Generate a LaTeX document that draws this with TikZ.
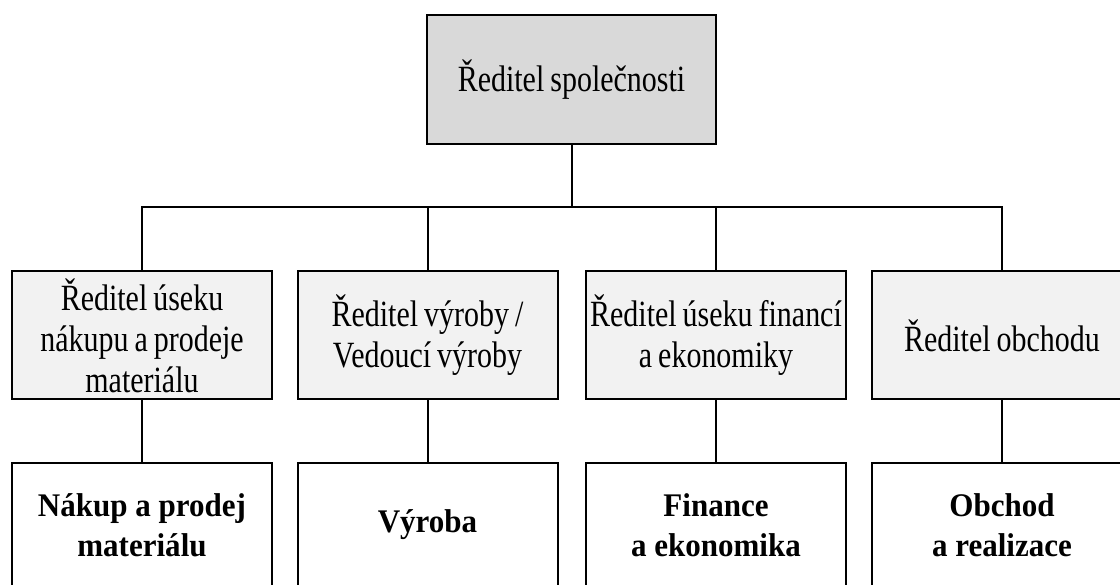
\documentclass[tikz,border=0pt]{standalone}
\usepackage{fontspec}
\setmainfont{Liberation Serif}[FakeStretch=0.81, WordSpace=0.8]
\newfontfamily\deptfont{Liberation Serif}[FakeStretch=0.94]
\usepackage{tikz}
\usetikzlibrary{positioning,calc}
\usepackage{xcolor}
\definecolor{topgray}{RGB}{217,217,217}
\definecolor{midgray}{RGB}{242,242,242}
\tikzset{
  % common org box
  orgbox/.style={rectangle, draw=black, line width=2pt, minimum width=260pt, minimum height=128pt,
                 inner sep=2pt, align=center},
  % company director
  topbox/.style={orgbox, fill=topgray, minimum width=289pt, minimum height=129pt,
                 font=\fontsize{37}{41}\selectfont},
  % section directors
  midbox/.style={orgbox, fill=midgray, font=\fontsize{37}{41}\selectfont},
  % departments
  deptbox/.style={orgbox, fill=white, minimum height=124pt,
                  font=\deptfont\bfseries\fontsize{33}{40}\selectfont},
  % connector line
  link/.style={line width=2pt, black},
}

\begin{document}
\begin{tikzpicture}[x=1pt, y=1pt]
  \useasboundingbox (0,0) rectangle (1120,585);
  \clip (0,0) rectangle (1120,585);

  % ═══════ DIRECTOR ═══════
  \node[topbox] (ceo) at (571.5,505.5) {Ředitel společnosti};
  \coordinate (bus) at (571.5,378);

  % ═══════ SECTION DIRECTORS ═══════
  \node[midbox] (u1) at (142,249.5) {Ředitel úseku\\nákupu a prodeje\\materiálu};
  \node[midbox] (u2) at (427.5,249.5) {Ředitel výroby /\\Vedoucí výroby};
  \node[midbox] (u3) at (716,249.5) {Ředitel úseku financí\\a ekonomiky};
  \node[midbox] (u4) at (1002,249.5) {Ředitel obchodu};

  % ═══════ DEPARTMENTS ═══════
  \node[deptbox] (d1) at (142,60) {Nákup a prodej\\materiálu};
  \node[deptbox] (d2) at (427.5,60) {Výroba};
  \node[deptbox] (d3) at (716,60) {Finance\\a ekonomika};
  \node[deptbox] (d4) at (1002,60) {Obchod\\a realizace};

  % connectors
  \draw[link] (ceo.south) -- (bus);
  \draw[link] (u1.north) |- (bus) -| (u4.north);
  \foreach \i in {2,3}
    \draw[link] (u\i.north) -- (u\i.north |- bus);
  \foreach \i in {1,...,4}
    \draw[link] (u\i) -- (d\i);

\end{tikzpicture}
\end{document}
